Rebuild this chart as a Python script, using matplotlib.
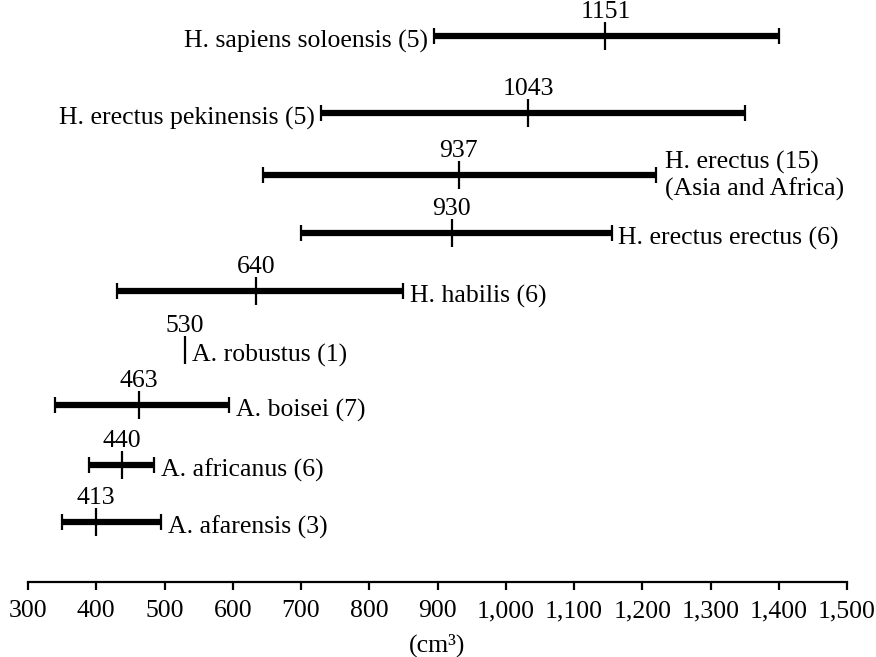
"""Endocranial volume ranges and means for fossil hominid taxa (cm3)."""

import matplotlib
matplotlib.use("Agg")
import matplotlib.pyplot as plt

# data, bottom row first
taxa = ["A. afarensis (3)", "A. africanus (6)", "A. boisei (7)", "A. robustus (1)",
        "H. habilis (6)", "H. erectus erectus (6)", "H. erectus (15)\n(Asia and Africa)",
        "H. erectus pekinensis (5)", "H. sapiens soloensis (5)"]
mins = [350, 390, 340, 530, 430, 700, 645, 730, 895]
maxs = [495, 485, 595, 530, 850, 1155, 1220, 1350, 1400]
means = [413, 440, 463, 530, 640, 930, 937, 1043, 1151]
# where the mean mark actually sits in the drawing
mark_at = [400, 438, 463, 530, 634, 921, 931, 1033, 1146]
ticks = list(range(300, 1501, 100))
tick_labels = [f"{t:,}" for t in ticks]

# layout: row heights in pixels above the axis line, label side
rows = [60, 117, 177, 232, 291, 349, 407, 469, 546]
label_side = ["right", "right", "right", "right", "right", "right", "right", "left", "left"]

plt.rcParams["font.family"] = ["Liberation Serif", "DejaVu Serif"]
FS = 18.5

fig = plt.figure(figsize=(8.76, 6.57), dpi=100)
ax = fig.add_axes([28 / 876, 1 - 582 / 657, (847 - 28) / 876, 582 / 657])
ax.set_xlim(300, 1500)
ax.set_ylim(0, 582)

for name, lo, hi, m, mk, y, side in zip(taxa, mins, maxs, means, mark_at, rows, label_side):
    if hi > lo:
        ax.hlines(y, lo, hi, color="black", lw=4.5)
        ax.vlines([lo, hi], y - 8, y + 8, color="black", lw=1.6)
    ax.vlines(mk, y - 14, y + 14, color="black", lw=1.6)
    ax.text(mk, y + 13, str(m), ha="center", va="bottom", fontsize=FS)
    if side == "left":
        ax.text(lo - 9, y - 5, name, ha="right", va="center", fontsize=FS)
    elif "\n" in name:
        ax.text(hi + 13, y - 1, name, ha="left", va="center", fontsize=FS, linespacing=1.2)
    else:
        ax.text(hi + 10, y - 5, name, ha="left", va="center", fontsize=FS)

for s in ["top", "right", "left"]:
    ax.spines[s].set_visible(False)
ax.spines["bottom"].set_linewidth(1.6)
ax.set_yticks([])
ax.set_xticks(ticks)
ax.set_xticklabels(tick_labels, fontsize=FS)
ax.tick_params(axis="x", direction="out", length=6, width=1.6, pad=7)
ax.set_xlabel("(cm³)", fontsize=FS, labelpad=8)

fig.savefig("out.png", dpi=100)
